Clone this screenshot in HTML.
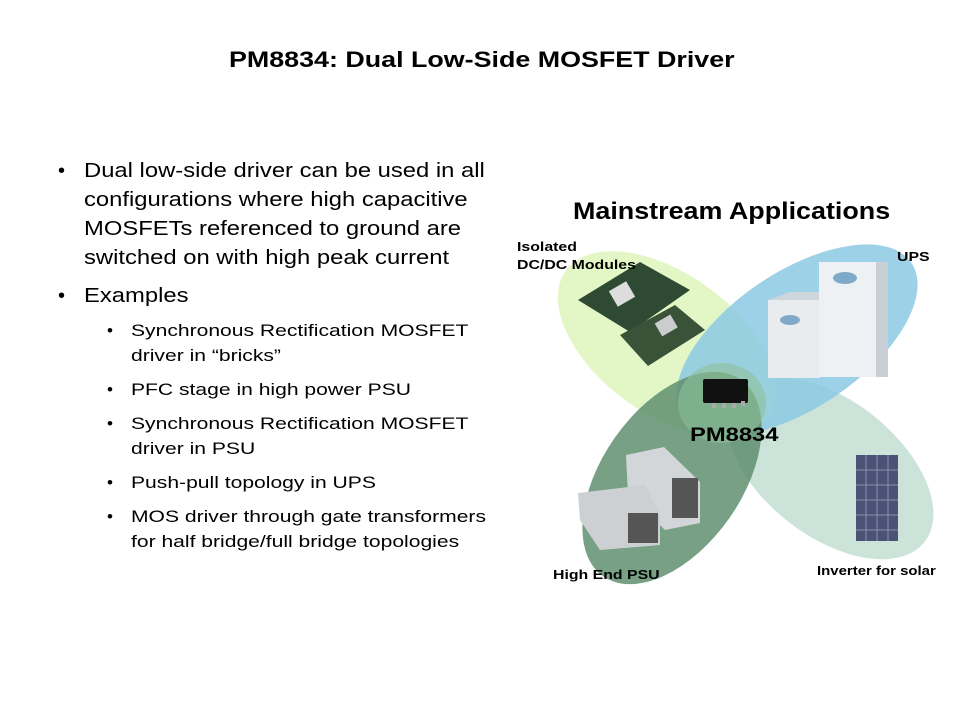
<!DOCTYPE html>
<html><head><meta charset="utf-8"><style>
body{margin:0;width:960px;height:720px;background:#fff;position:relative;overflow:hidden;font-family:"Liberation Sans",Arial,sans-serif;color:#000}
.t{position:absolute;white-space:nowrap;transform-origin:0 0}
.m{font-size:20px;transform:scaleX(1.19)}
.s{font-size:17px;transform:scaleX(1.24)}
.b{font-weight:bold}
.l{font-size:13px;transform:scaleX(1.22)}
</style></head><body>
<div class="t b" style="left:229px;top:47px;font-size:22px;transform:scaleX(1.22)">PM8834: Dual Low-Side MOSFET Driver</div>

<div class="t" style="left:58px;top:160px;font-size:20px">•</div>
<div class="t m" style="left:84px;top:160px">Dual low-side driver can be used in all</div>
<div class="t m" style="left:84px;top:189px">configurations where high capacitive</div>
<div class="t m" style="left:84px;top:218px">MOSFETs referenced to ground are</div>
<div class="t m" style="left:84px;top:247px">switched on with high peak current</div>
<div class="t" style="left:58px;top:285px;font-size:20px">•</div>
<div class="t m" style="left:84px;top:285px">Examples</div>

<div class="t" style="left:107px;top:321px;font-size:17px">•</div><div class="t s" style="left:131px;top:321px">Synchronous Rectification MOSFET</div>
<div class="t s" style="left:131px;top:346px">driver in “bricks”</div>
<div class="t" style="left:107px;top:380px;font-size:17px">•</div><div class="t s" style="left:131px;top:380px">PFC stage in high power PSU</div>
<div class="t" style="left:107px;top:414px;font-size:17px">•</div><div class="t s" style="left:131px;top:414px">Synchronous Rectification MOSFET</div>
<div class="t s" style="left:131px;top:439px">driver in PSU</div>
<div class="t" style="left:107px;top:473px;font-size:17px">•</div><div class="t s" style="left:131px;top:473px">Push-pull  topology in UPS</div>
<div class="t" style="left:107px;top:507px;font-size:17px">•</div><div class="t s" style="left:131px;top:507px">MOS driver through gate transformers</div>
<div class="t s" style="left:131px;top:532px">for half bridge/full  bridge topologies</div>

<svg style="position:absolute;left:0;top:0" width="960" height="720">
<ellipse cx="830" cy="468" rx="120" ry="68" transform="rotate(38 830 468)" fill="#cbe3d8"/>
<ellipse cx="667" cy="344" rx="125" ry="70" transform="rotate(36 667 344)" fill="#e3f7c6"/>
<ellipse cx="797" cy="340" rx="138" ry="68" transform="rotate(-34 797 340)" fill="#8cc9e3" fill-opacity="0.85"/>
<ellipse cx="672" cy="478" rx="120" ry="70" transform="rotate(-55 672 478)" fill="#5f8f70" fill-opacity="0.85"/>
<ellipse cx="722" cy="403" rx="44" ry="40" fill="#8fbf98" fill-opacity="0.6"/>
<polygon points="578,300 640,262 690,290 630,332" fill="#2f4a32"/>
<polygon points="620,335 675,305 705,330 648,366" fill="#3a5238"/>
<rect x="612" y="285" width="20" height="18" fill="#ddd" transform="rotate(-30 622 294)"/>
<rect x="657" y="318" width="18" height="15" fill="#ccc" transform="rotate(-30 666 325)"/>
<rect x="768" y="300" width="52" height="78" fill="#e8ecef"/>
<polygon points="768,300 790,292 820,292 820,300" fill="#cfd6db"/>
<rect x="819" y="262" width="68" height="115" fill="#eef1f3"/>
<rect x="876" y="262" width="12" height="115" fill="#c9cfd4"/>
<ellipse cx="845" cy="278" rx="12" ry="6" fill="#7fa9c9"/>
<ellipse cx="790" cy="320" rx="10" ry="5" fill="#7fa9c9"/>
<rect x="703" y="379" width="45" height="24" rx="2" fill="#111"/>
<rect x="712" y="403" width="4" height="5" fill="#aaa"/><rect x="722" y="403" width="4" height="5" fill="#aaa"/><rect x="732" y="403" width="4" height="5" fill="#aaa"/><rect x="741" y="401" width="4" height="5" fill="#aaa"/>
<polygon points="626,455 664,447 700,482 700,523 665,530 628,495" fill="#d3d6d8"/>
<rect x="672" y="478" width="26" height="40" fill="#555"/>
<polygon points="578,493 645,485 660,515 660,545 600,550 580,520" fill="#cdd0d2"/>
<rect x="628" y="513" width="30" height="30" fill="#555"/>
<rect x="856" y="455" width="42" height="86" fill="#4b5275"/>
<g stroke="#8a90b0" stroke-width="1">
<line x1="866" y1="455" x2="866" y2="541"/><line x1="877" y1="455" x2="877" y2="541"/><line x1="888" y1="455" x2="888" y2="541"/>
<line x1="856" y1="470" x2="898" y2="470"/><line x1="856" y1="485" x2="898" y2="485"/><line x1="856" y1="500" x2="898" y2="500"/><line x1="856" y1="515" x2="898" y2="515"/><line x1="856" y1="530" x2="898" y2="530"/>
</g>
</svg>

<div class="t b" style="left:573px;top:198px;font-size:24px;transform:scaleX(1.12)">Mainstream Applications</div>
<div class="t b l" style="left:517px;top:238px;line-height:18px">Isolated<br>DC/DC Modules</div>
<div class="t b l" style="left:897px;top:249px">UPS</div>
<div class="t b" style="left:690px;top:425px;font-size:19px;transform:scaleX(1.25)">PM8834</div>
<div class="t b l" style="left:553px;top:567px">High End PSU</div>
<div class="t b l" style="left:817px;top:563px;transform:scaleX(1.15)">Inverter for solar</div>
</body></html>
